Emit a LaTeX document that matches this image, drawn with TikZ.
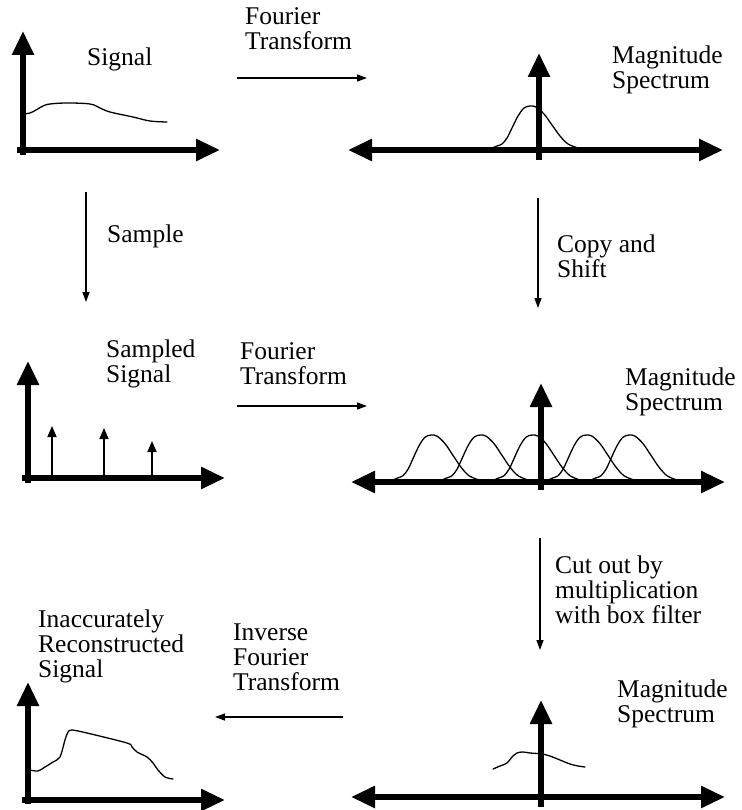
\documentclass[tikz,border=0pt]{standalone}
\usepackage{fontspec}
\setmainfont{Liberation Serif}
\usetikzlibrary{arrows.meta}
\begin{document}
\begin{tikzpicture}[x=1pt,y=-1pt,
  bigtip/.tip={Triangle[length=24pt,width=21pt]},
  axis/.style={line width=5.5pt, -bigtip},
  axisboth/.style={line width=5.5pt, bigtip-bigtip},
  conn/.style={line width=1.3pt, -{Triangle[length=10pt,width=7pt]}},
  spike/.style={line width=1.6pt, -{Triangle[length=11pt,width=9pt]}},
  curve/.style={line width=1.3pt, line join=round, line cap=round},
  lbl/.style={font=\fontsize{25.5}{25}\selectfont, inner sep=0pt, align=left, anchor=base west},
  bump/.pic={\draw[curve] plot[smooth, tension=0.55] coordinates {(0,0) (5,-2) (10,-4) (15,-10) (20,-20) (26,-32) (32,-40) (38,-42) (44,-41) (52,-34) (60,-23) (68,-12) (76,-4) (86,0)};}
]
\useasboundingbox (0,0) rectangle (741,810);

% ---------- top left: signal ----------
\coordinate (a1o) at (23,155); \coordinate (a1y) at (23,31);
\coordinate (a1l) at (17,150); \coordinate (a1x) at (220,150);
\draw[curve] plot[smooth, tension=0.6] coordinates {(23,114) (30,113) (36,110) (43,106) (50,104) (67,103) (90,104) (100,108) (110,112) (133,117) (150,121) (167,122)};
\draw[axis] (a1o) -- (a1y);
\draw[axis] (a1l) -- (a1x);
\node[lbl] (sig) at (87,66) {Signal};

% ---------- top right: spectrum ----------
\coordinate (b1l) at (348,150); \coordinate (b1r) at (723,150);
\coordinate (b1o) at (539,160); \coordinate (b1y) at (539,53);
\pic at (492,148) {bump};
\draw[axisboth] (b1l) -- (b1r);
\draw[axis] (b1o) -- (b1y);
\node[lbl] (mag1) at (612,89) {Magnitude\\Spectrum};

% top connector
\node[lbl] (ft1) at (245,50) {Fourier\\Transform};
\coordinate (ft1s) at (237,78); \coordinate (ft1e) at (367,78);
\draw[conn] (ft1s) -- (ft1e);

% Sample connector
\coordinate (sas) at (86,192); \coordinate (sae) at (86,302);
\draw[conn] (sas) -- (sae);
\node[lbl] (samp) at (107,242) {Sample};

% Copy and shift connector
\coordinate (cps) at (538,198); \coordinate (cpe) at (538,308);
\draw[conn] (cps) -- (cpe);
\node[lbl] (copy) at (557,277) {Copy and\\Shift};

% ---------- middle left: sampled ----------
\coordinate (a2o) at (28,483); \coordinate (a2y) at (28,361);
\coordinate (a2l) at (22,478); \coordinate (a2x) at (225,478);
\coordinate (s1b) at (52,478); \coordinate (s1t) at (52,426);
\coordinate (s2b) at (104,478); \coordinate (s2t) at (104,428);
\coordinate (s3b) at (152,478); \coordinate (s3t) at (152,441);
\draw[spike] (s1b) -- (s1t);
\draw[spike] (s2b) -- (s2t);
\draw[spike] (s3b) -- (s3t);
\draw[axis] (a2o) -- (a2y);
\draw[axis] (a2l) -- (a2x);
\node[lbl] (ssig) at (106,382) {Sampled\\Signal};

% middle connector
\node[lbl] (ft2) at (240,384) {Fourier\\Transform};
\coordinate (ft2s) at (237,406); \coordinate (ft2e) at (367,406);
\draw[conn] (ft2s) -- (ft2e);

% ---------- middle right: replicated spectrum ----------
\coordinate (b2l) at (351,482); \coordinate (b2r) at (725,482);
\coordinate (b2o) at (541,490); \coordinate (b2y) at (541,383);
\foreach \s in {393,442,494,548,591} { \pic[yscale=1.07] at (\s,480) {bump}; }
\draw[axisboth] (b2l) -- (b2r);
\draw[axis] (b2o) -- (b2y);
\node[lbl] (mag2) at (625,410) {Magnitude\\Spectrum};

% Cut out connector
\coordinate (cus) at (540,538); \coordinate (cue) at (540,650);
\draw[conn] (cus) -- (cue);
\node[lbl] (cut) at (555,623) {Cut out by\\multiplication\\with box filter};

% ---------- bottom right: filtered spectrum ----------
\coordinate (b3l) at (351,797); \coordinate (b3r) at (725,797);
\coordinate (b3o) at (541,807); \coordinate (b3y) at (541,700);
\draw[curve] plot[smooth, tension=0.6] coordinates {(493,769) (500,766) (507,763) (512,757) (517,753) (523,752) (530,753) (543,754) (550,756) (560,760) (570,764) (578,766) (585,767)};
\draw[axisboth] (b3l) -- (b3r);
\draw[axis] (b3o) -- (b3y);
\node[lbl] (mag3) at (617,722) {Magnitude\\Spectrum};

% inverse connector
\node[lbl] (ift) at (233,690) {Inverse\\Fourier\\Transform};
\coordinate (ifs) at (343,717); \coordinate (ife) at (215,717);
\draw[conn] (ifs) -- (ife);

% ---------- bottom left: reconstructed ----------
\coordinate (a3o) at (28,804); \coordinate (a3y) at (28,682);
\coordinate (a3l) at (22,800); \coordinate (a3x) at (225,800);
\draw[curve] plot[smooth, tension=0.5] coordinates {(30,770) (38,771) (45,767) (53,762) (60,757) (65,740) (68,732) (72,730) (87,733) (127,743) (132,747) (137,752) (147,757) (153,763) (158,770) (165,777) (173,779)};
\draw[axis] (a3o) -- (a3y);
\draw[axis] (a3l) -- (a3x);
\node[lbl] (rec) at (38,677) {Inaccurately\\Reconstructed\\Signal};
\end{tikzpicture}
\end{document}
